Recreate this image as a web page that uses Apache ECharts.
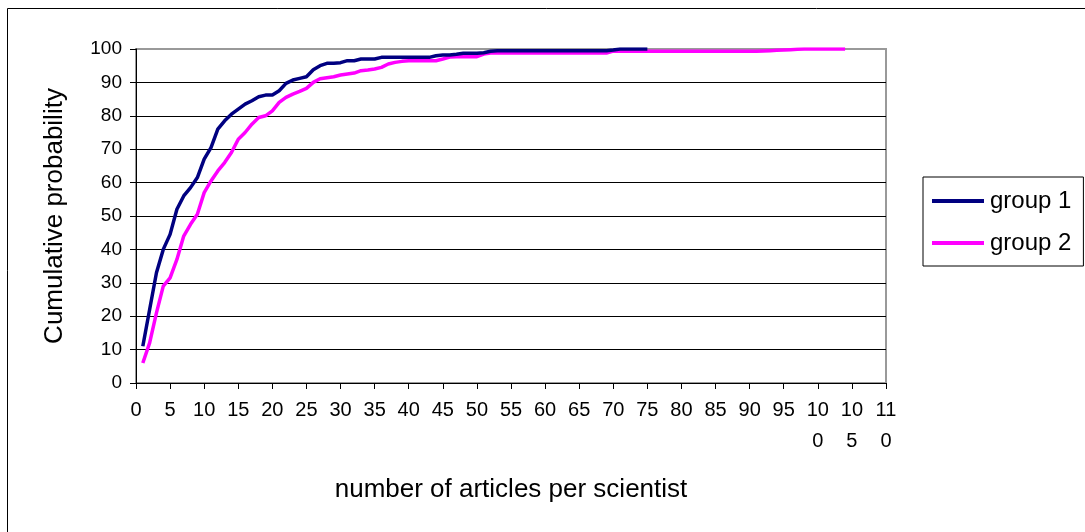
<!DOCTYPE html>
<html>
<head>
<meta charset="utf-8">
<script src="https://cdn.jsdelivr.net/npm/echarts@6/dist/echarts.min.js"></script>
<style>html,body{margin:0;padding:0;background:#fff}#c{width:1085px;height:532px}</style>
</head>
<body>
<div id="c"></div>
<script>
// x values (number of articles per scientist)
const group1X = [];
for (let i = 1; i <= 75; i++) group1X.push(i);
const group2X = [];
for (let i = 1; i <= 104; i++) group2X.push(i);

// cumulative probability
const group1Y = [
  11, 22, 33, 40, 44.5, 52, 56, 58.5, 61.5, 67,
  70.5, 76, 78.5, 80.5, 82, 83.5, 84.5, 85.7, 86.2, 86.2,
  87.5, 89.7, 90.7, 91.2, 91.7, 93.8, 95, 95.7, 95.7, 95.9,
  96.5, 96.5, 97, 97, 97, 97.5, 97.5, 97.5, 97.5, 97.5,
  97.5, 97.5, 97.5, 98, 98.2, 98.2, 98.4, 98.7, 98.7, 98.7,
  98.9, 99.3, 99.5, 99.5, 99.5, 99.5, 99.5, 99.5, 99.5, 99.5,
  99.5, 99.5, 99.5, 99.5, 99.5, 99.5, 99.5, 99.5, 99.5, 99.7,
  100, 100, 100, 100, 100
];
const group2Y = [
  6, 12, 21, 29, 31.5, 37, 44, 47.5, 50.5, 57,
  60.5, 63.5, 66, 69, 73, 75, 77.5, 79.5, 80, 81.5,
  84, 85.5, 86.5, 87.3, 88.2, 90, 91.1, 91.4, 91.7, 92.2,
  92.5, 92.8, 93.5, 93.7, 94, 94.5, 95.5, 96, 96.3, 96.5,
  96.5, 96.5, 96.5, 96.5, 97, 97.6, 97.7, 97.7, 97.7, 97.7,
  98.5, 98.8, 98.8, 98.8, 98.8, 98.8, 98.8, 98.8, 98.8, 98.8,
  98.8, 98.8, 98.8, 98.8, 98.8, 98.8, 98.8, 98.8, 98.8, 99.4,
  99.3, 99.3, 99.3, 99.3, 99.3, 99.3, 99.3, 99.3, 99.3, 99.3,
  99.3, 99.3, 99.3, 99.3, 99.3, 99.3, 99.3, 99.3, 99.3, 99.3,
  99.3, 99.4, 99.5, 99.6, 99.7, 99.8, 99.9, 100, 100, 100,
  100, 100, 100, 100
];

const seriesNames = ['group 1', 'group 2'];
const xTickMin = 0, xTickMax = 110, xTickStep = 5;
const yTickMin = 0, yTickMax = 100, yTickStep = 10;

const pair = (xs, ys) => xs.map((x, i) => [x, ys[i]]);
const font = 'Liberation Sans, Arial, sans-serif';

const chart = echarts.init(document.getElementById('c'), null, {renderer: 'canvas'});
chart.setOption({
  animation: false,
  backgroundColor: '#fff',
  textStyle: {fontFamily: font, color: '#000'},
  grid: {
    left: 136, top: 49, right: 199, bottom: 149,
    show: true, borderColor: '#999', borderWidth: 2, backgroundColor: 'transparent'
  },
  graphic: [{
    type: 'rect', z: -10, silent: true,
    shape: {x: 7.5, y: 8.5, width: 1100, height: 600},
    style: {fill: 'none', stroke: '#000', lineWidth: 1}
  }],
  legend: {
    orient: 'vertical', left: 923, top: 177,
    width: 161,
    padding: [11, 12, 10, 9],
    itemGap: 16, itemWidth: 52, itemHeight: 4, icon: 'rect',
    borderColor: '#000', borderWidth: 1,
    textStyle: {fontFamily: font, fontSize: 24, color: '#000', padding: [0, 0, 0, 1], lineHeight: 26},
    data: seriesNames
  },
  xAxis: {
    type: 'value', min: xTickMin, max: xTickMax, interval: xTickStep,
    name: 'number of articles per scientist', nameLocation: 'middle', nameGap: 94,
    nameTextStyle: {fontFamily: font, fontSize: 26, color: '#000'},
    axisLine: {show: true, lineStyle: {color: '#000', width: 1}},
    axisTick: {show: true, length: 6, lineStyle: {color: '#000'}},
    splitLine: {show: false},
    axisLabel: {
      fontFamily: font, fontSize: 20, color: '#000', margin: 12, lineHeight: 31,
      formatter: v => { const s = String(v); return s.length > 2 ? s.slice(0, 2) + '\n' + s.slice(2) : s; }
    }
  },
  yAxis: {
    type: 'value', min: yTickMin, max: yTickMax, interval: yTickStep,
    name: 'Cumulative probability', nameLocation: 'middle', nameGap: 68,
    nameTextStyle: {fontFamily: font, fontSize: 26, color: '#000'},
    axisLine: {show: true, lineStyle: {color: '#000', width: 1}},
    axisTick: {show: true, length: 6, lineStyle: {color: '#000'}},
    splitLine: {show: true, lineStyle: {color: ['#000','#000','#000','#000','#000','#000','#000','#000','#000','#000','transparent'], width: 1}},
    axisLabel: {fontFamily: font, fontSize: 19, color: '#000', margin: 14}
  },
  series: [
    {name: seriesNames[0], type: 'line', data: pair(group1X, group1Y), symbol: 'none',
     lineStyle: {color: '#000080', width: 3.5}, itemStyle: {color: '#000080'}, z: 3},
    {name: seriesNames[1], type: 'line', data: pair(group2X, group2Y), symbol: 'none',
     lineStyle: {color: '#FF00FF', width: 3.5}, itemStyle: {color: '#FF00FF'}, z: 2}
  ]
});
</script>
</body>
</html>
